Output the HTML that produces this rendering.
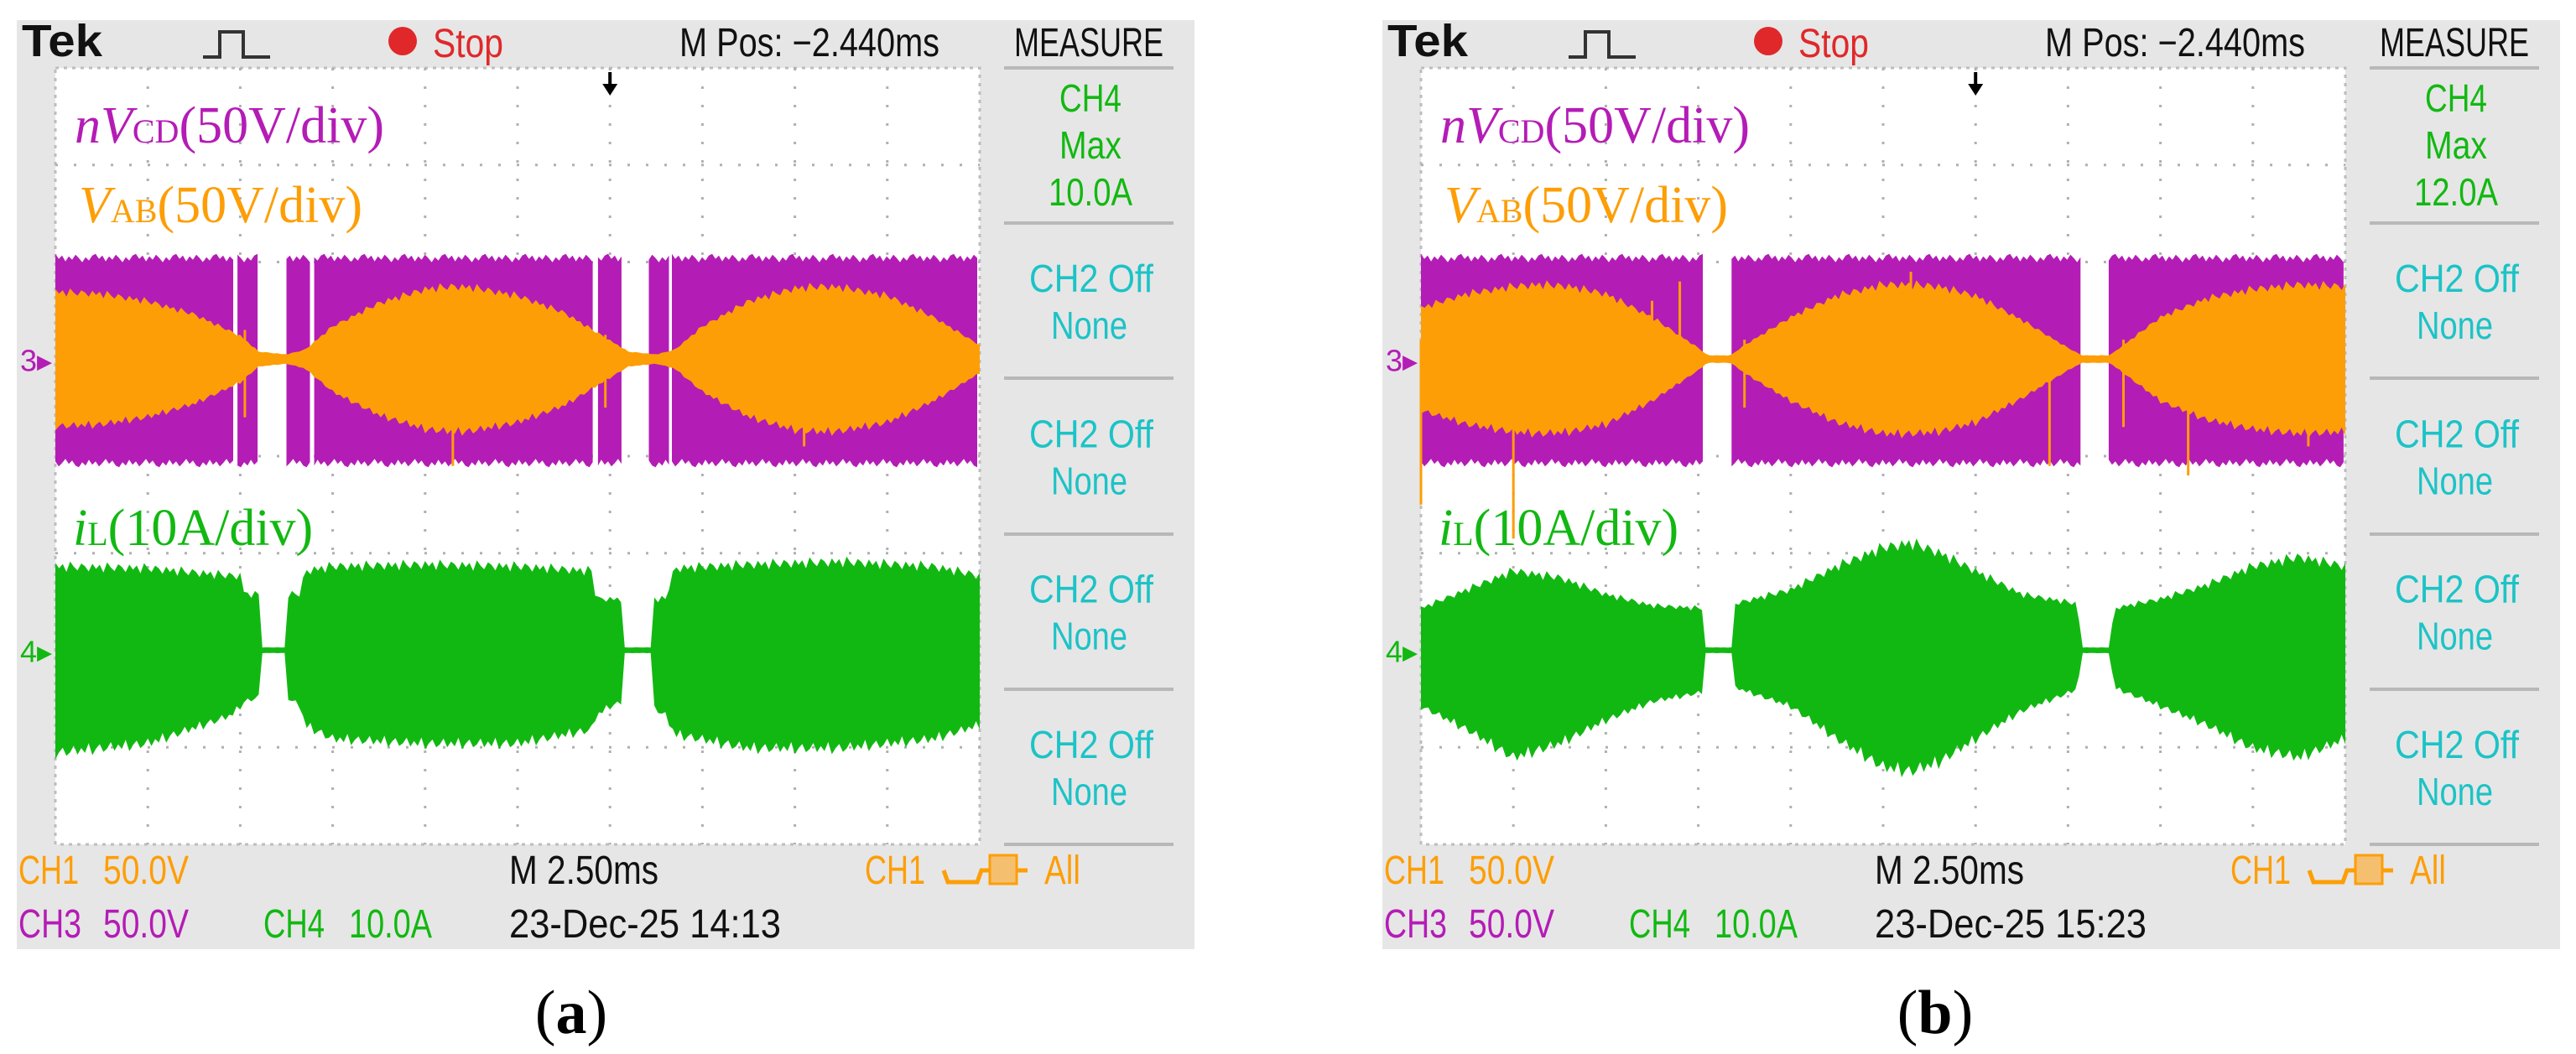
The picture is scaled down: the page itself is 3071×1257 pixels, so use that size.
<!DOCTYPE html>
<html>
<head>
<meta charset="utf-8">
<style>
html,body{margin:0;padding:0;background:#fff;}
svg{display:block;}
text{font-family:"Liberation Sans",sans-serif;}
.serif{font-family:"Liberation Serif",serif;}
</style>
</head>
<body>
<svg id="fig" width="3071" height="1257" viewBox="0 0 3071 1257" xmlns="http://www.w3.org/2000/svg"></svg>
<script>
// ---------------- Panel (a) data (time in divisions 0..10, amplitude in divisions) ----------------
const purpleSegA = [[0,1.93],[1.97,2.2],[2.5,2.77],[2.8,5.84],[5.87,6.15],[6.42,6.64],[6.67,10]];
const purpleAmpA = [1.05,1.08];
const orangeTA = [0,0.5,1,1.5,2,2.2,2.5,2.7,3,3.5,4,4.3,4.5,5,5.5,6,6.2,6.5,6.7,7,7.5,8,8.3,8.5,9,9.5,10];
const orangeAmpA = [0.72,0.7,0.62,0.48,0.25,0.08,0.05,0.1,0.35,0.6,0.75,0.78,0.77,0.68,0.5,0.2,0.08,0.05,0.1,0.35,0.62,0.76,0.78,0.77,0.68,0.45,0.15];
const greenTA = [0,1,1.9,2.0,2.05,2.2,2.21,2.49,2.5,2.65,2.7,3,4,5,5.8,5.85,6.0,6.15,6.16,6.44,6.45,6.6,6.7,7.5,8.5,9.5,10];
const greenTopA = [0.9,0.88,0.8,0.8,0.6,0.6,0.03,0.03,0.6,0.6,0.85,0.9,0.92,0.9,0.85,0.55,0.55,0.55,0.03,0.03,0.55,0.55,0.88,0.92,0.95,0.9,0.8];
const greenBotA = [1.1,1.0,0.7,0.6,0.55,0.5,0.03,0.03,0.5,0.6,0.8,0.95,1.0,1.0,0.85,0.7,0.6,0.55,0.03,0.03,0.6,0.7,0.9,1.05,1.05,0.95,0.8];
const spikeTA = [2.05,4.3,5.95,8.1];
const spikeHiA = [0.3,0.2,0.25,0.2];
const spikeLoA = [-0.6,-1.1,-0.5,-0.9];
const measureA = ["CH4","Max","10.0A"];
const dateA = "23-Dec-25 14:13";

// ---------------- Panel (b) data ----------------
const purpleSegB = [[0,3.08],[3.36,7.14],[7.44,10]];
const purpleAmpB = [1.05,1.08];
const orangeTB = [0,0.5,1,1.3,1.6,2,2.5,3,3.1,3.35,3.5,4,4.5,5,5.3,5.6,6,6.5,7,7.15,7.45,7.6,8,8.5,9,9.5,10];
const orangeAmpB = [0.55,0.7,0.78,0.8,0.78,0.7,0.45,0.12,0.04,0.04,0.15,0.45,0.68,0.8,0.8,0.78,0.68,0.42,0.12,0.04,0.04,0.15,0.45,0.65,0.75,0.8,0.78];
const greenTB = [0,0.5,1,1.5,2,2.5,3.05,3.08,3.38,3.4,4,4.5,5,5.3,5.6,6,6.5,7.1,7.15,7.45,7.5,8,8.5,9,9.5,10];
const greenTopB = [0.45,0.65,0.85,0.78,0.6,0.48,0.45,0.03,0.03,0.5,0.65,0.9,1.1,1.15,1.05,0.85,0.6,0.5,0.03,0.03,0.45,0.55,0.7,0.9,1.0,0.9];
const greenBotB = [0.6,0.85,1.15,1.0,0.75,0.55,0.45,0.03,0.03,0.4,0.6,0.95,1.25,1.3,1.2,0.95,0.65,0.42,0.03,0.03,0.4,0.6,0.8,1.05,1.15,0.95];
const spikeTB = [0.0,1.0,2.5,2.8,3.5,5.3,6.8,7.6,8.3,9.6];
const spikeHiB = [0.2,0.2,0.6,0.8,0.2,0.9,0.2,0.2,0.2,0.5];
const spikeLoB = [-1.5,-1.85,-0.3,-0.2,-0.5,-0.3,-1.1,-0.7,-1.2,-0.9];
const measureB = ["CH4","Max","12.0A"];
const dateB = "23-Dec-25 15:23";

const NS = "http://www.w3.org/2000/svg";
const svg = document.getElementById('fig');
const C = {purple:"#b41cb6", orange:"#fd9e06", green:"#12b812", cyan:"#1cc3c6", grey:"#e6e6e6", red:"#e0282a"};
const divW = 110.2, divH = 115.75;

function mk(tag, attrs, parent){
  const e = document.createElementNS(NS, tag);
  for (const k in attrs) e.setAttribute(k, attrs[k]);
  (parent||svg).appendChild(e);
  return e;
}
function interp(ts, vs, t){
  if (t<=ts[0]) return vs[0];
  for (let i=1;i<ts.length;i++){
    if (t<=ts[i]){ const f=(t-ts[i-1])/(ts[i]-ts[i-1]||1); return vs[i-1]+f*(vs[i]-vs[i-1]); }
  }
  return vs[vs.length-1];
}
const jag = [1,0.94,0.99,0.9,1.02,0.96,0.92,1,0.97,0.91];
const pjag = [0,6,2,9,3,7,1,5,10,4,8,2];

function panel(ox, d){
  const g = mk('g',{});
  
  
  const gx = 66+ox, gy = 81, gw = divW*10, gh = divH*8;
  const X = t => gx + t*divW;
  const Y = (ch,v) => gy + ch*divH - v*divH;

  const bg = mk('rect',{x:20+ox,y:24,width:1404,height:1108,fill:C.grey},g);
   
  const plot = mk('rect',{x:gx,y:gy,width:gw,height:gh,fill:"#fff",stroke:"#bdbdbd","stroke-width":3,"stroke-dasharray":"4,6"},g);
   
  const grid = mk('g',{stroke:"#b0b0b0","stroke-width":3,"stroke-dasharray":"3,19"},g);
   
  for (let i=1;i<10;i++) mk('line',{x1:X(i),y1:gy,x2:X(i),y2:gy+gh},grid);
  for (let j=1;j<8;j++) mk('line',{x1:gx,y1:gy+j*divH,x2:gx+gw,y2:gy+j*divH},grid);

  // purple band (jagged edges)
  let k0 = 0;
  d.pSeg.forEach(s=>{
    let up=[], dn=[];
    const x0=X(s[0]), x1=X(s[1]);
    for (let x=x0; x<=x1+0.01; x+=4){
      const xx=Math.min(x,x1);
      up.push(xx.toFixed(1)+","+(Y(3,d.pAmp[0])+pjag[k0%pjag.length]-4).toFixed(1));
      dn.push(xx.toFixed(1)+","+(Y(3,-d.pAmp[1])-pjag[(k0+5)%pjag.length]+4).toFixed(1));
      k0++;
    }
    const p = mk('polygon',{points:up.concat(dn.reverse()).join(" "),fill:C.purple},g);
     
  });
  function env(ts, top, bot, ch, color, name){
    let up=[], dn=[]; let k=0;
    for (let t=0;t<=10.0001;t+=0.04){
      const j = jag[k%jag.length]; k++;
      up.push(X(t).toFixed(1)+","+Y(ch, interp(ts,top,t)*j).toFixed(1));
      dn.push(X(t).toFixed(1)+","+Y(ch,-interp(ts,bot,t)*jag[(k+3)%jag.length]).toFixed(1));
    }
    const p = mk('polygon',{points:up.concat(dn.reverse()).join(" "),fill:color},g);
     
  }
  env(d.oT, d.oAmp, d.oAmp, 3, C.orange, 'vab-waveform');
  d.sT.forEach((t,i)=>{
    const l = mk('line',{x1:X(t),y1:Y(3,d.sHi[i]),x2:X(t),y2:Y(3,d.sLo[i]),stroke:C.orange,"stroke-width":3},g);
     
  });
  env(d.gT, d.gTop, d.gBot, 6, C.green, 'il-waveform');

  const m3 = mk('text',{x:24+ox,y:Y(3,0)+14,fill:C.purple,"font-size":36},g); m3.textContent="3▸";
   
  const m4 = mk('text',{x:24+ox,y:Y(6,0)+14,fill:C.green,"font-size":36},g); m4.textContent="4▸";
   
  const ax = X(6);
  const trg = mk('path',{d:`M${ax-2},86 L${ax+2},86 L${ax+2},100 L${ax+9},100 L${ax},114 L${ax-9},100 L${ax-2},100 Z`,fill:"#000"},g);
   

  function T(x,y,w,s,fill,size,name,extra){
    const a = {x:x+ox,y:y,fill:fill,"font-size":size,textLength:w,lengthAdjust:"spacingAndGlyphs"};
    if (extra) Object.assign(a,extra);
    const t = mk('text',a,g); t.textContent = s;
     
    return t;
  }
  T(26,67,96,"Tek","#111",54,'brand-label',{"font-weight":"bold"});
  const pulse = mk('polyline',{points:`${242+ox},68 ${262+ox},68 ${262+ox},38 ${290+ox},38 ${290+ox},68 ${322+ox},68`,fill:"none",stroke:"#333","stroke-width":4},g);
   
  const dot = mk('circle',{cx:480+ox,cy:49,r:17,fill:C.red},g);
   
  T(516,68,84,"Stop",C.red,48,'run-status');
  T(810,67,310,"M Pos: −2.440ms","#111",48,'horizontal-position');
  T(1209,67,178,"MEASURE","#111",48,'measure-title');
  [81,266,451,637,822,1007].forEach(y=>{
    const l = mk('line',{x1:1197+ox,y1:y,x2:1399+ox,y2:y,stroke:"#b8b8b8","stroke-width":4},g);
     
  });
  const mw=[74,74,100];
  d.meas.forEach((s,i)=>{ T(1300-mw[i]/2,133+i*56,mw[i],s,C.green,46,'measure-ch4-value'); });
  for (let i=0;i<4;i++){
    const b = 266+i*185.3;
    T(1227,b+82,148,"CH2 Off",C.cyan,46,'measure-slot-source');
    T(1253,b+138,91,"None",C.cyan,46,'measure-slot-type');
  }
  T(22,1054,72,"CH1",C.orange,48,'ch1-label');
  T(123,1054,102,"50.0V",C.orange,48,'ch1-scale');
  T(607,1054,178,"M 2.50ms","#111",48,'timebase');
  T(1031,1054,72,"CH1",C.orange,48,'trigger-source');
  const trig = mk('g',{},g);  
  mk('polyline',{points:`${1125+ox},1038 ${1130+ox},1052 ${1165+ox},1052 ${1170+ox},1038 ${1225+ox},1038`,fill:"none",stroke:C.orange,"stroke-width":5},trig);
  mk('rect',{x:1180+ox,y:1020,width:32,height:34,fill:"#f4c070",stroke:C.orange,"stroke-width":3},trig);
  T(1245,1054,43,"All",C.orange,48,'trigger-coupling');
  T(22,1118,75,"CH3",C.purple,48,'ch3-label');
  T(123,1118,102,"50.0V",C.purple,48,'ch3-scale');
  T(314,1118,73,"CH4",C.green,48,'ch4-label');
  T(416,1118,99,"10.0A",C.green,48,'ch4-scale');
  T(607,1118,324,d.date,"#111",48,'timestamp');

  const l1 = mk('text',{x:89+ox,y:170,fill:C.purple,"font-size":62,class:"serif"},g);
  l1.innerHTML = '<tspan font-style="italic">nV</tspan><tspan font-size="40">CD</tspan>(50V/div)';
   
  const l2 = mk('text',{x:94+ox,y:265,fill:C.orange,"font-size":62,class:"serif"},g);
  l2.innerHTML = '<tspan font-style="italic">V</tspan><tspan font-size="40">AB</tspan>(50V/div)';
   
  const l3 = mk('text',{x:87+ox,y:650,fill:C.green,"font-size":62,class:"serif"},g);
  l3.innerHTML = '<tspan font-style="italic">i</tspan><tspan font-size="40">L</tspan>(10A/div)';
   

  const cap = mk('text',{x:d.capX,y:1232,fill:"#000","font-size":74,"text-anchor":"middle",class:"serif"},g);
  cap.innerHTML = '(<tspan font-weight="bold">'+d.cap+'</tspan>)';
   
}

panel(0,{name:'panel-a',pSeg:purpleSegA,pAmp:purpleAmpA,oT:orangeTA,oAmp:orangeAmpA,gT:greenTA,gTop:greenTopA,gBot:greenBotA,sT:spikeTA,sHi:spikeHiA,sLo:spikeLoA,meas:measureA,date:dateA,cap:'a',capX:681});
panel(1628,{name:'panel-b',pSeg:purpleSegB,pAmp:purpleAmpB,oT:orangeTB,oAmp:orangeAmpB,gT:greenTB,gTop:greenTopB,gBot:greenBotB,sT:spikeTB,sHi:spikeHiB,sLo:spikeLoB,meas:measureB,date:dateB,cap:'b',capX:2307});
</script>
</body>
</html>
